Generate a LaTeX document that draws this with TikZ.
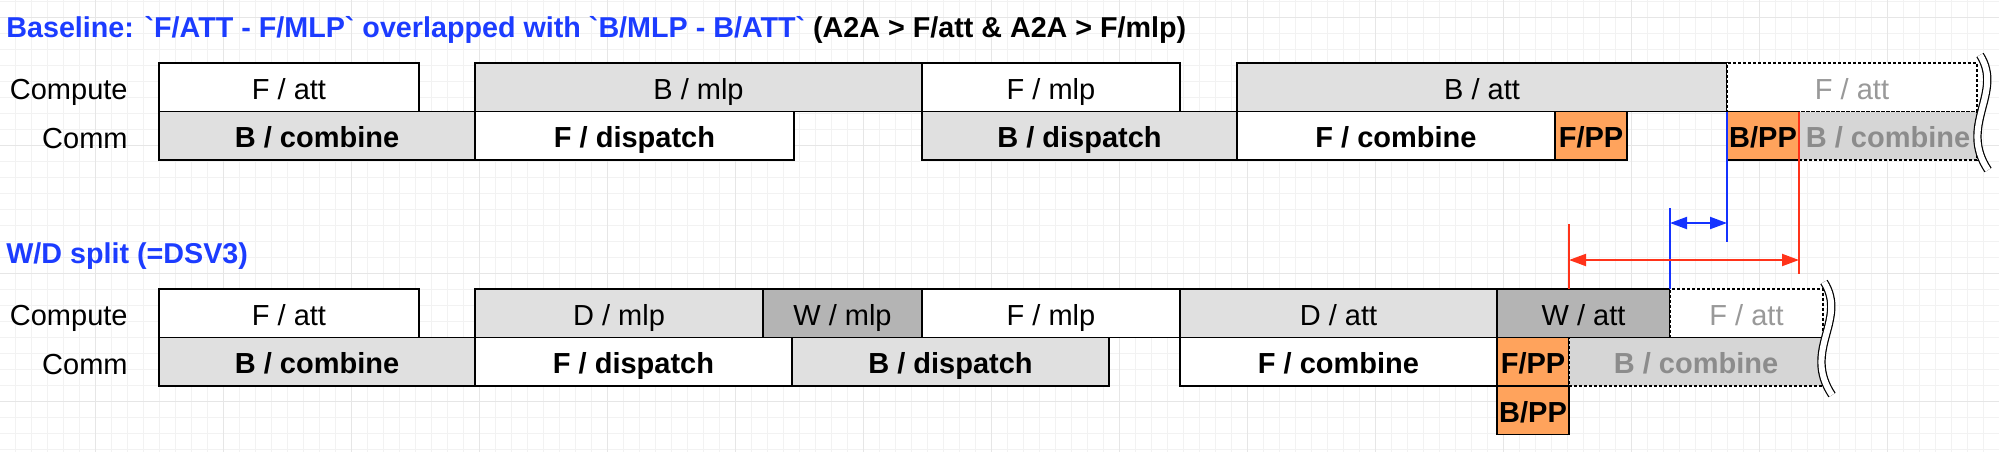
\documentclass[tikz,border=0pt]{standalone}
\usepackage{fontspec}
\setmainfont{Liberation Sans}
\usetikzlibrary{arrows.meta}

\definecolor{titleblue}{RGB}{28,60,255}
\definecolor{markblue}{RGB}{20,50,255}
\definecolor{markred}{RGB}{255,51,26}
\definecolor{ppfill}{RGB}{255,163,92}
\definecolor{bwdfill}{RGB}{224,224,224}
\definecolor{wgtfill}{RGB}{180,180,180}
\definecolor{ghostfill}{RGB}{214,214,214}
\definecolor{ghostcommtext}{RGB}{140,140,140}
\definecolor{ghosttext}{RGB}{153,153,153}
\definecolor{gridminor}{RGB}{242,242,242}
\definecolor{gridmajor}{RGB}{230,230,230}

\tikzset{
  slot/.style={draw, line width=0.6pt, minimum height=24.25pt, inner sep=0pt,
    outer sep=0pt, anchor=north west, text height=12.2pt, text depth=0pt,
    font=\fontsize{14.5}{17}\selectfont},
  fwd/.style={slot, fill=white},
  bwd/.style={slot, fill=bwdfill},
  wgt/.style={slot, fill=wgtfill},
  commtxt/.style={font=\bfseries\fontsize{14.5}{17}\selectfont},
  pp/.style={slot, commtxt, fill=ppfill},
  ghost/.style={slot, fill=white, dash pattern=on 1.5pt off 1pt, text=ghosttext},
  ghostcomm/.style={slot, commtxt, fill=ghostfill, dash pattern=on 1.5pt off 1pt, text=ghostcommtext},
  rowlabel/.style={anchor=east, inner sep=0pt, text height=12.2pt, text depth=0pt,
    font=\fontsize{14.5}{17}\selectfont},
  headline/.style={anchor=base west, inner sep=0pt, font=\bfseries\fontsize{14.35}{17}\selectfont},
  marker/.style={line width=0.75pt},
  gap/.style={line width=1pt, {Triangle[length=8.5pt,width=6pt]}-{Triangle[length=8.5pt,width=6pt]}},
  cut/.style={line width=0.6pt, double=white, double distance=3pt}
}

\begin{document}
\begin{tikzpicture}[x=0.5pt, y=-0.5pt]
  \useasboundingbox (0,0) rectangle (1999,452);
  % background grid
  \foreach \gx in {15,31,...,1999} \draw[gridminor, line width=0.5pt] (\gx,0) -- (\gx,452);
  \foreach \gy in {1,17,...,452} \draw[gridminor, line width=0.5pt] (0,\gy) -- (1999,\gy);
  \foreach \gx in {95,223,...,1999} \draw[gridmajor, line width=0.5pt] (\gx,0) -- (\gx,452);
  \foreach \gy in {17,145,...,452} \draw[gridmajor, line width=0.5pt] (0,\gy) -- (1999,\gy);

  % baseline
  \node[headline] (title1) at (6,37) {\textcolor{titleblue}{Baseline: \textasciigrave F/ATT - F/MLP\textasciigrave{} overlapped with \textasciigrave B/MLP - B/ATT\textasciigrave} (A2A > F/att \& A2A > F/mlp)};
  \node[rowlabel] (compute1) at (128,87.5) {Compute};
  \node[rowlabel] (comm1) at (128,136) {Comm};

  \node[fwd, minimum width=130pt] (fatt1) at (159,63) {F / att};
  \node[bwd, minimum width=223.5pt] (bmlp1) at (475,63) {B / mlp};
  \node[fwd, minimum width=129pt] (fmlp1) at (922,63) {F / mlp};
  \node[bwd, minimum width=245pt] (batt1) at (1237,63) {B / att};
  \node[ghost, minimum width=125pt] (nextatt1) at (1727,63) {F / att};

  \node[bwd, commtxt, minimum width=158pt] (bcomb1) at (159,111.5) {B / combine};
  \node[fwd, commtxt, minimum width=159.5pt] (fdisp1) at (475,111.5) {F / dispatch};
  \node[bwd, commtxt, minimum width=157.5pt] (bdisp1) at (922,111.5) {B / dispatch};
  \node[fwd, commtxt, minimum width=159pt] (fcomb1) at (1237,111.5) {F / combine};
  \node[pp, minimum width=36pt] (fpp1) at (1555,111.5) {F/PP};
  \node[pp, minimum width=36pt] (bpp1) at (1727,111.5) {B/PP};
  \node[ghostcomm, minimum width=89pt] (nextcomb1) at (1799,111.5) {B / combine};

  \draw[cut] (1980,55) .. controls +(24,38) and +(-30,-45) .. (1988,170);

  % W/D split
  \node[headline] (title2) at (6,263) {\textcolor{titleblue}{W/D split (=DSV3)}};
  \node[rowlabel] (compute2) at (128,313.5) {Compute};
  \node[rowlabel] (comm2) at (128,362) {Comm};

  \node[fwd, minimum width=130pt] (fatt2) at (159,289) {F / att};
  \node[bwd, minimum width=144pt] (dmlp2) at (475,289) {D / mlp};
  \node[wgt, minimum width=79.5pt] (wmlp2) at (763,289) {W / mlp};
  \node[fwd, minimum width=129pt] (fmlp2) at (922,289) {F / mlp};
  \node[bwd, minimum width=158.5pt] (datt2) at (1180,289) {D / att};
  \node[wgt, minimum width=86.5pt] (watt2) at (1497,289) {W / att};
  \node[ghost, minimum width=76.5pt] (nextatt2) at (1670,289) {F / att};

  \node[bwd, commtxt, minimum width=158pt] (bcomb2) at (159,337.5) {B / combine};
  \node[fwd, commtxt, minimum width=158.5pt] (fdisp2) at (475,337.5) {F / dispatch};
  \node[bwd, commtxt, minimum width=158.5pt] (bdisp2) at (792,337.5) {B / dispatch};
  \node[fwd, commtxt, minimum width=158.5pt] (fcomb2) at (1180,337.5) {F / combine};
  \node[pp, minimum width=36pt] (fpp2) at (1497,337.5) {F/PP};
  \node[ghostcomm, minimum width=127pt] (nextcomb2) at (1569,337.5) {B / combine};
  \node[pp, minimum width=36pt] (bpp2) at (1497,386) {B/PP};

  \draw[cut] (1824,282) .. controls +(24,38) and +(-30,-45) .. (1832,395);

  % gaps between the two schedules
  \coordinate (bluetop) at (1670,208);
  \coordinate (bluelow) at (1727,242);
  \coordinate (redtop) at (1569,224);
  \coordinate (redlow) at (1799,274);
  \coordinate (blueL) at (1670,223);
  \coordinate (blueR) at (1727,223);
  \coordinate (redL) at (1569,260);
  \coordinate (redR) at (1799,260);
  \draw[marker, markblue] (bpp1.north west) -- (bluelow);
  \draw[marker, markblue] (watt2.north east) -- (bluetop);
  \draw[marker, markred] (bpp1.north east) -- (redlow);
  \draw[marker, markred] (fpp2.east |- watt2.north) -- (redtop);
  \draw[gap, markblue] (blueL) -- (blueR);
  \draw[gap, markred] (redL) -- (redR);
\end{tikzpicture}
\end{document}
